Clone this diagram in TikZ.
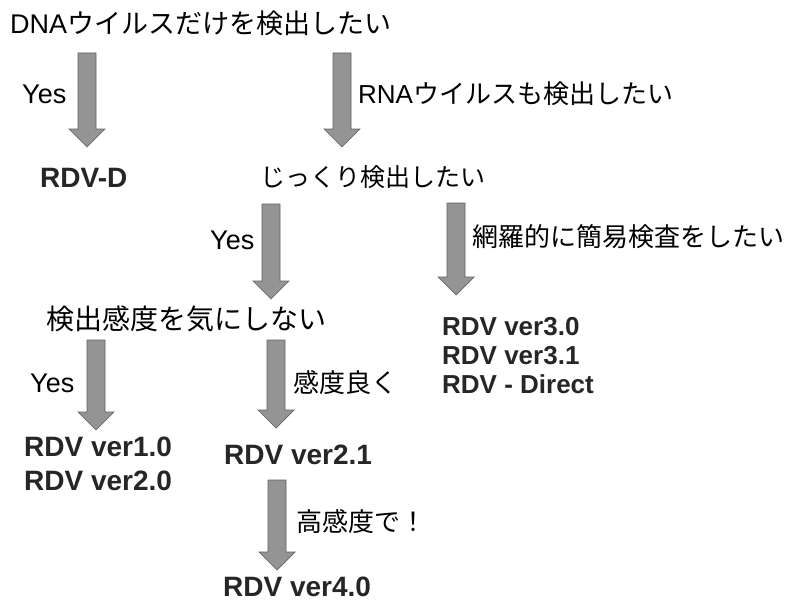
\documentclass[tikz,border=0pt]{standalone}
\usepackage{fontspec}
\setmainfont{Liberation Sans}
\newfontfamily\jp{Noto Sans CJK JP}
\usetikzlibrary{calc}
\tikzset{
  lbl/.style={anchor=west, inner sep=0pt, text=black},
  rdv/.style={anchor=west, inner sep=0pt, text=black!85, font=\fontsize{28}{30}\selectfont\bfseries},
  rdvs/.style={anchor=west, inner sep=0pt, text=black!85, font=\fontsize{26}{28}\selectfont\bfseries},
  barr/.style={fill=black!42, draw=black!62, line width=0.7pt, line join=miter}
}
\newcommand\jf[1]{\fontsize{#1}{#1}\selectfont}
\newcommand\blockarr[2]{%
  \filldraw[barr] let \p1=(#1), \p2=(#2) in
    (\x1-9pt,\y1) -- (\x1+9pt,\y1) -- (\x1+9pt,\y2+18pt) -- (\x1+18pt,\y2+18pt)
    -- (\x1,\y2) -- (\x1-18pt,\y2+18pt) -- (\x1-9pt,\y2+18pt) -- cycle;}
\begin{document}
\begin{tikzpicture}[x=1pt,y=-1pt]
\useasboundingbox (0,0) rectangle (809,602);
% texts
\node[lbl] (t0) at (10,23) {\jf{27}DNA{\jp ウイルスだけを検出したい}};
\node[lbl] (yes1) at (22,94) {\jf{27}Yes};
\node[rdv] (rdvd) at (40,178) {RDV-D};
\node[lbl] (rna) at (358,94) {\jf{26}RNA{\jp ウイルスも検出したい}};
\node[lbl] (jk) at (260,177) {\jf{25}\jp じっくり検出したい};
\node[lbl] (yes3) at (210,240) {\jf{27}Yes};
\node[lbl] (mou) at (472,237) {\jf{26}\jp 網羅的に簡易検査をしたい};
\node[lbl] (kd) at (46,319) {\jf{28}\jp 検出感度を気にしない};
\node[rdvs] (v30) at (442,327) {RDV ver3.0};
\node[rdvs] (v31) at (442,356) {RDV ver3.1};
\node[rdvs] (vdir) at (442,384) {RDV - Direct};
\node[lbl] (yes5) at (30,383) {\jf{27}Yes};
\node[lbl] (kr) at (293,383) {\jf{26}\jp 感度良く};
\node[rdv] (v10) at (24,447) {RDV ver1.0};
\node[rdv] (v20) at (24,481) {RDV ver2.0};
\node[rdv] (v21) at (224,455) {RDV ver2.1};
\node[lbl] (kk) at (296,522) {\jf{26}\jp 高感度で！};
\node[rdv] (v40) at (223,587) {RDV ver4.0};
% arrow end points
\coordinate (a1s) at (87,53);  \coordinate (a1e) at (87,147);
\coordinate (a2s) at (342,53); \coordinate (a2e) at (342,147);
\coordinate (a3s) at (271,204); \coordinate (a3e) at (271,299);
\coordinate (a4s) at (456,203); \coordinate (a4e) at (456,295);
\coordinate (a5s) at (96,340); \coordinate (a5e) at (96,430);
\coordinate (a6s) at (276,340); \coordinate (a6e) at (276,428);
\coordinate (a7s) at (277,480); \coordinate (a7e) at (277,570);
\blockarr{a1s}{a1e}
\blockarr{a2s}{a2e}
\blockarr{a3s}{a3e}
\blockarr{a4s}{a4e}
\blockarr{a5s}{a5e}
\blockarr{a6s}{a6e}
\blockarr{a7s}{a7e}
\end{tikzpicture}
\end{document}
